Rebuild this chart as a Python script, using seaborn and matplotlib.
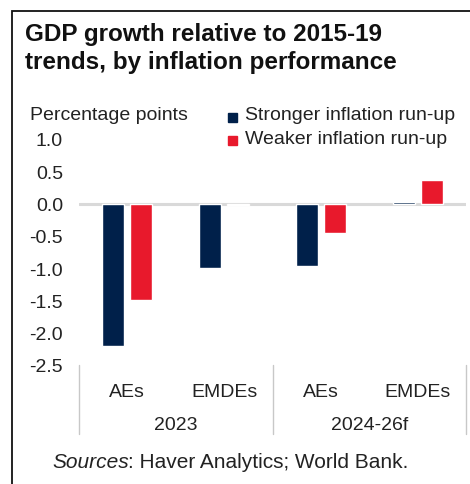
import matplotlib
matplotlib.use("Agg")
import matplotlib.pyplot as plt
import matplotlib.patches as mpatches
import matplotlib.transforms as mtransforms
import seaborn as sns
import pandas as pd

# Chart data
periods = ["2023", "2023", "2024-26f", "2024-26f"]
groups = ["AEs", "EMDEs", "AEs", "EMDEs"]
stronger = [-2.2, -1.0, -0.97, 0.03]
weaker = [-1.5, -0.02, -0.45, 0.37]
series_names = ["Stronger inflation run-up", "Weaker inflation run-up"]
yticks = [1.0, 0.5, 0.0, -0.5, -1.0, -1.5, -2.0, -2.5]

NAVY = "#00204A"
RED = "#E8192C"
TEXT = "#222222"
FS = 14

slots = [f"{p}|{g}" for p, g in zip(periods, groups)]
df = pd.DataFrame({
    "slot": slots * 2,
    "series": [series_names[0]] * 4 + [series_names[1]] * 4,
    "value": stronger + weaker,
})

sns.set_theme(style="white")
plt.rcParams["font.family"] = ["Liberation Sans", "DejaVu Sans"]

W, H = 470, 485
fig = plt.figure(figsize=(W / 100, H / 100), dpi=100)
ax_l, ax_r, ax_t, ax_b = 79, 466, 140, 366
ax = fig.add_axes([ax_l / W, 1 - ax_b / H, (ax_r - ax_l) / W, (ax_b - ax_t) / H])

sns.barplot(data=df, x="slot", y="value", hue="series", order=slots,
            hue_order=series_names, palette=[NAVY, RED], width=0.58, gap=0.21,
            saturation=1, legend=False, ax=ax, zorder=3)

ax.axhline(0, color="#D9D9D9", lw=2.2, zorder=1)
ax.set_xlim(-0.5, 3.5)
ax.set_ylim(-2.5, 1.0)
ax.set_yticks(yticks)
ax.set_yticklabels([f"{v:.1f}" for v in yticks], fontsize=FS, color=TEXT)
ax.tick_params(axis="y", length=0, pad=11.5)
ax.set_xticks(range(4))
ax.set_xticklabels(groups, fontsize=FS, color=TEXT)
ax.tick_params(axis="x", length=0, pad=13)
ax.set_xlabel("")
ax.set_ylabel("")
for s in ax.spines.values():
    s.set_visible(False)

# Separators between period groups under the axis
trans = mtransforms.blended_transform_factory(ax.transData, ax.transAxes)
sep_bottom = -(435 - ax_b) / (ax_b - ax_t)
for xs in [-0.5, 1.5, 3.5]:
    ax.plot([xs, xs], [0, sep_bottom], transform=trans, color="#C8C8C8",
            lw=1.0, clip_on=False)
label_y = -(426 - ax_b) / (ax_b - ax_t)
for xc, p in [(0.5, "2023"), (2.5, "2024-26f")]:
    ax.text(xc, label_y, p, transform=trans, ha="center", va="center",
            fontsize=FS, color=TEXT)

# Title and annotations
fig.text(25 / W, 1 - 35 / H, "GDP growth relative to 2015-19", fontsize=17.5,
         fontweight="bold", color="#111111", va="center", ha="left")
fig.text(25 / W, 1 - 62 / H, "trends, by inflation performance", fontsize=17.5,
         fontweight="bold", color="#111111", va="center", ha="left")
fig.text(30 / W, 1 - 116 / H, "Percentage points", fontsize=FS, color=TEXT,
         va="center", ha="left")

# Legend
for i, (name, col) in enumerate(zip(series_names, [NAVY, RED])):
    yc = 118 + i * 23
    fig.patches.append(mpatches.Rectangle((228 / W, 1 - (yc + 4.5) / H), 9 / W, 9 / H,
                                          transform=fig.transFigure, color=col))
    fig.text(245 / W, 1 - (yc - 2) / H, name, fontsize=FS, color=TEXT,
             va="center", ha="left")

src = fig.text(52 / W, 1 - 463 / H, "Sources", fontsize=15, style="italic",
               color=TEXT, va="center", ha="left")
fig.canvas.draw()
bb = src.get_window_extent()
fig.text((bb.x1 - 1) / W, 1 - 463 / H, ": Haver Analytics; World Bank.", fontsize=15,
         color=TEXT, va="center", ha="left")

# Outer frame (left and top edges visible)
fig.patches.append(mpatches.Rectangle((12 / W, -0.1), 1.2, 1 - 12 / H + 0.1,
                                      transform=fig.transFigure, fill=False,
                                      edgecolor="#111111", lw=1.3))

fig.savefig("out.png", dpi=100)
